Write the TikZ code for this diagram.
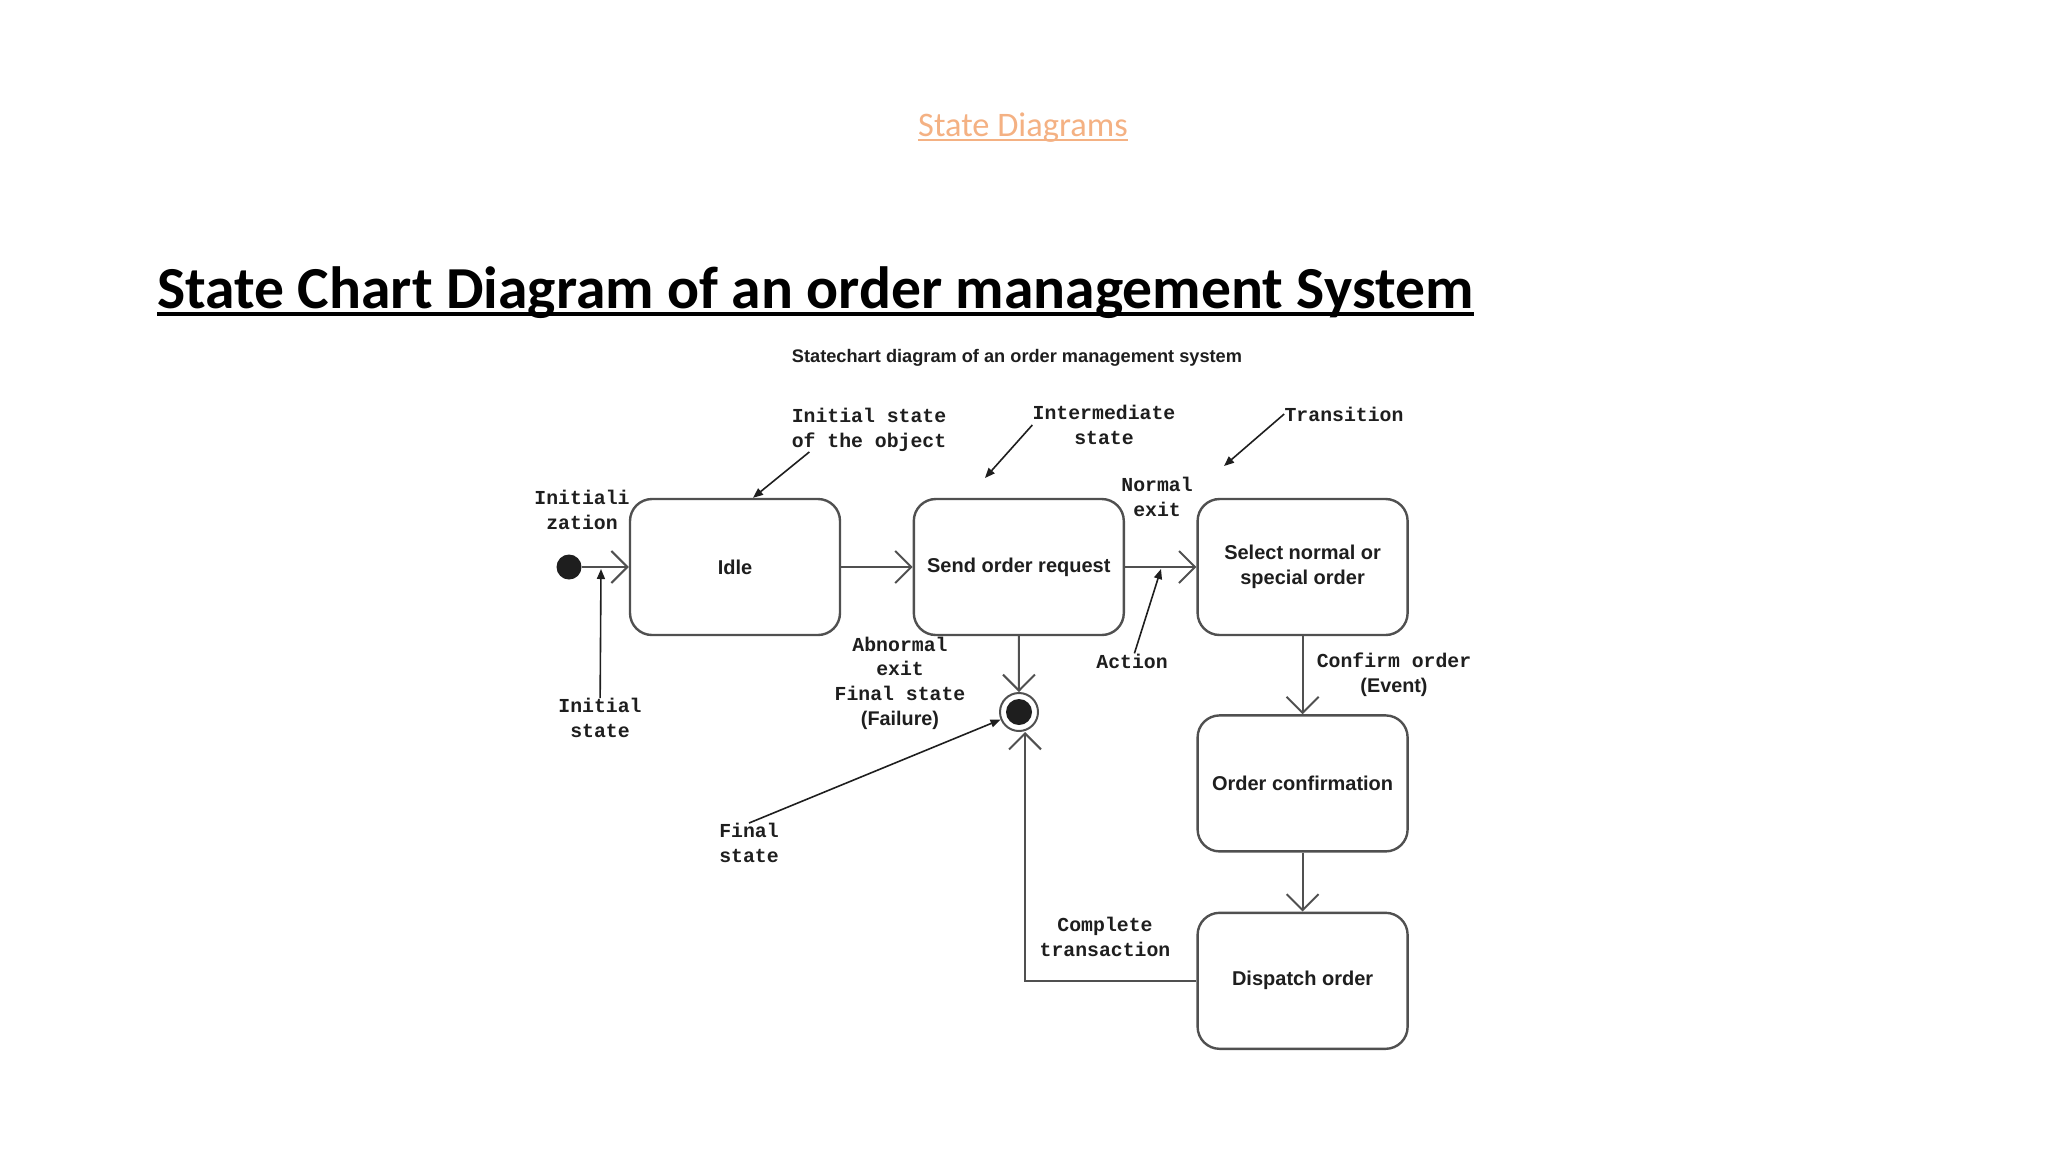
\documentclass[tikz,border=0pt]{standalone}
\usepackage{fontspec}
\setmainfont{Carlito}
\newfontfamily\omsmono{Liberation Mono}
\newfontfamily\omssans{Liberation Sans}
\usepackage{xcolor}
\definecolor{OMSPeach}{RGB}{244,177,131}
\definecolor{OMSGray}{RGB}{80,80,80}
\definecolor{OMSInk}{RGB}{30,30,30}
\usepackage{tikz}
\usetikzlibrary{positioning,arrows.meta}

\begin{document}
\begin{tikzpicture}[x=0.5pt, y=-0.5pt, node distance=35.7pt and 35.7pt, >=Stealth]
\tikzstyle{stt}=[draw=OMSGray, line width=1.2pt, rounded corners=11pt, minimum width=105pt, minimum height=68pt, align=center, text=OMSInk, font=\omssans\bfseries\fontsize{10}{12.4}\selectfont]
\tikzstyle{note}=[inner sep=0pt, align=center, text=OMSInk, font=\omsmono\bfseries\fontsize{9.9}{12.3}\selectfont]
\tikzstyle{trans}=[-{Straight Barb[length=8pt, width=16pt]}, line width=1pt, draw=OMSGray]
\tikzstyle{ptr}=[-{Triangle[length=5pt, width=4pt]}, line width=0.8pt, draw=OMSInk]

\useasboundingbox (0,0) rectangle (2048,1152);

% headings
\node[inner sep=0pt, anchor=base, text=OMSPeach, font=\fontsize{17.2}{21}\selectfont] (topic) at (1023,136) {State Diagrams};
\draw[OMSPeach, line width=0.7pt] ([yshift=-2pt]topic.base west) -- ([yshift=-2pt]topic.base east);
\node[inner sep=0pt, anchor=base west, font=\bfseries\fontsize{29.8}{36}\selectfont] (ttl) at (157,308) {State Chart Diagram of an order management System};
\draw[line width=2pt] ([yshift=-3pt]ttl.base west) -- ([yshift=-3pt]ttl.base east);
\node[inner sep=0pt, text=OMSInk, font=\omssans\bfseries\fontsize{9.1}{11}\selectfont] (cap) at (1017,358) {Statechart diagram of an order management system};

% states
\node[stt] (idle) at (735,567) {Idle};
\node[stt, right=of idle] (send) {Send order request};
\node[stt, right=of send] (sel) {Select normal or\\special order};
\node[stt, below=39pt of sel] (conf) {Order confirmation};
\node[stt, below=29.5pt of conf] (disp) {Dispatch order};

% start and end points
\node[circle, fill=OMSInk, inner sep=0pt, minimum size=12.5pt] (init) at (569,567) {};
\node[circle, draw=OMSGray, line width=1pt, fill=white, inner sep=0pt, minimum size=19pt,
  path picture={\fill[OMSInk] (path picture bounding box.center) circle (6.5pt);}] (final) at (1019,712) {};

% labels
\node[note] (initz) at (582,510) {Initiali\\zation};
\node[note] (objlbl) at (869,430) {Initial state\\of the object};
\node[note] (midlbl) at (1104,425) {Intermediate\\state};
\node[note] (trlbl) at (1344,414) {Transition};
\node[note] (nexit) at (1157,497) {Normal\\exit};
\node[note] (act) at (1132,661) {Action};
\node[note] (abn) at (900,683) {Abnormal\\exit\\Final state\\{\omssans (Failure)}};
\node[note] (initlbl) at (600,718) {Initial\\state};
\node[note] (finlbl) at (749,843) {Final\\state};
\node[note] (cnf) at (1394,675) {Confirm order\\{\omssans (Event)}};
\node[note] (cmpl) at (1105,937) {Complete\\transaction};

\coordinate (inittip) at (601,569);
\coordinate (midtip) at (985,478);
\coordinate (trtip) at (1224,466);
\coordinate (acttip) at (1161,569);

% transitions
\draw[trans] (init) -- (idle);
\draw[trans] (idle) -- (send);
\draw[trans] (send) -- (sel);
\draw[trans] (send) -- (final);
\draw[trans] (sel) -- (conf);
\draw[trans] (conf) -- (disp);
\draw[trans] (disp.west) -| ([xshift=3pt]final.south);

% pointers
\draw[ptr] (initlbl) -- (inittip);
\draw[ptr] ([xshift=9pt]objlbl.south west) -- ([xshift=9pt]idle.north);
\draw[ptr] (midlbl.west) -- (midtip);
\draw[ptr] (trlbl.west) -- (trtip);
\draw[ptr] (act) -- (acttip);
\draw[ptr] (finlbl.north) -- (final);
\end{tikzpicture}
\end{document}
